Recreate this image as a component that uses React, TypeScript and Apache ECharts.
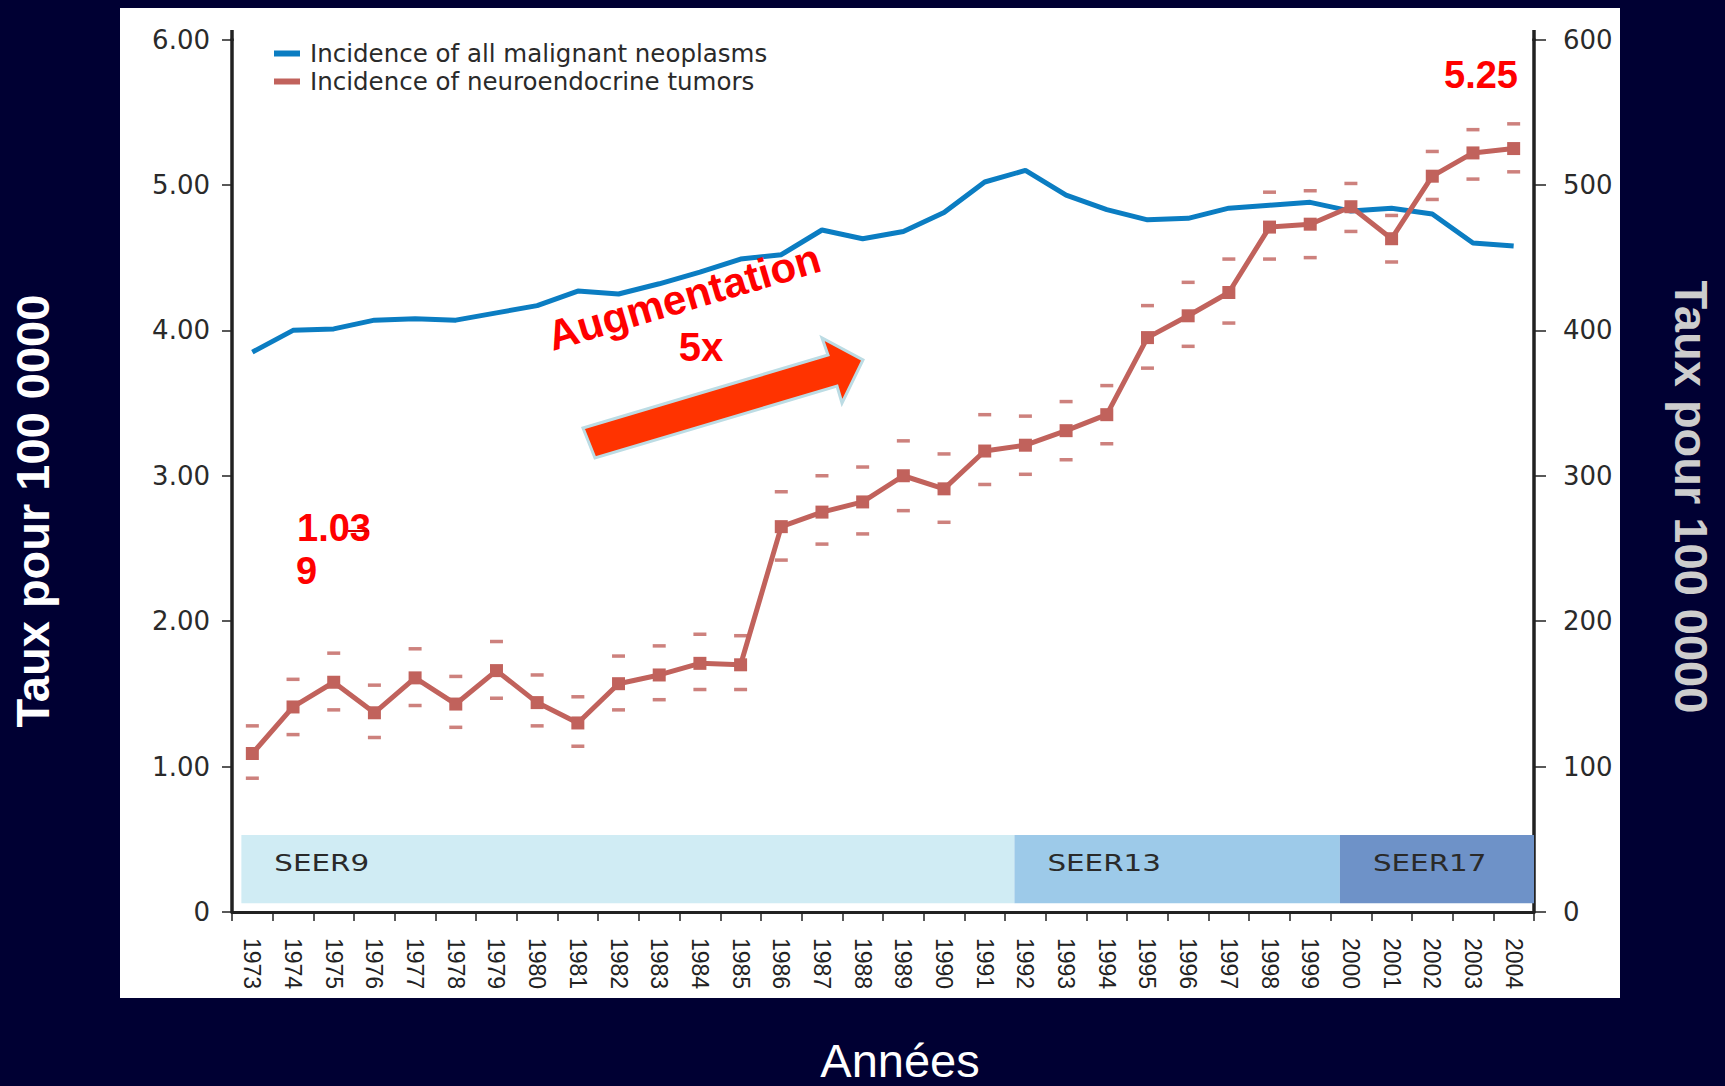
import React, { useEffect, useRef } from 'react';
import * as echarts from 'echarts';

const years = ['1973', '1974', '1975', '1976', '1977', '1978', '1979', '1980', '1981', '1982', '1983', '1984', '1985', '1986', '1987', '1988', '1989', '1990', '1991', '1992', '1993', '1994', '1995', '1996', '1997', '1998', '1999', '2000', '2001', '2002', '2003', '2004'];

// Incidence of all malignant neoplasms (right axis, per 100 000)
const allNeoplasms = [385, 400, 401, 407, 408, 407, 412, 417, 427, 425, 432, 440, 449, 452, 469, 463, 468, 481, 502, 510, 493, 483, 476, 477, 484, 486, 488, 482, 484, 480, 460, 458];

// Incidence of neuroendocrine tumors (left axis)
const netRate = [1.09, 1.41, 1.58, 1.37, 1.61, 1.43, 1.66, 1.44, 1.30, 1.57, 1.63, 1.71, 1.70, 2.65, 2.75, 2.82, 3.00, 2.91, 3.17, 3.21, 3.31, 3.42, 3.95, 4.10, 4.26, 4.71, 4.73, 4.85, 4.63, 5.06, 5.22, 5.25];
const netUpper = [1.28, 1.60, 1.78, 1.56, 1.81, 1.62, 1.86, 1.63, 1.48, 1.76, 1.83, 1.91, 1.90, 2.89, 3.00, 3.06, 3.24, 3.15, 3.42, 3.41, 3.51, 3.62, 4.17, 4.33, 4.49, 4.95, 4.96, 5.01, 4.79, 5.23, 5.38, 5.42];
const netLower = [0.92, 1.22, 1.39, 1.20, 1.42, 1.27, 1.47, 1.28, 1.14, 1.39, 1.46, 1.53, 1.53, 2.42, 2.53, 2.60, 2.76, 2.68, 2.94, 3.01, 3.11, 3.22, 3.74, 3.89, 4.05, 4.49, 4.50, 4.68, 4.47, 4.90, 5.04, 5.09];

const seerNames = ['SEER9', 'SEER13', 'SEER17'];
const seerStartYear = ['1973', '1992', '2000'];
const seerEndYear = ['1991', '1999', '2004'];
const seerColors = ['#d0ecf4', '#9dcae9', '#6e92c8'];

const seriesNames = ['Incidence of all malignant neoplasms', 'Incidence of neuroendocrine tumors'];

const RED = '#c1625c';
const BLUE = '#0b7dc2';
const AXIS = '#222222';

export default function App() {
  const ref = useRef<HTMLDivElement>(null);

  useEffect(() => {
    document.body.style.margin = '0';
    document.body.style.overflow = 'hidden';
    const chart = echarts.init(ref.current as HTMLDivElement, null, { renderer: 'svg' });

    const seerData = seerNames.map((_, i) => [years.indexOf(seerStartYear[i]), years.indexOf(seerEndYear[i])]);

    const option: any = {
      animation: false,
      backgroundColor: '#000033',
      grid: { left: 232, right: 191, top: 39.5, bottom: 174, containLabel: false },
      legend: {
        data: seriesNames,
        orient: 'vertical',
        left: 269,
        top: 36,
        itemWidth: 26,
        itemHeight: 6,
        itemGap: 3,
        icon: 'rect',
        textStyle: { fontSize: 24.5, fontFamily: 'DejaVu Sans', color: '#2a2a2a', padding: [0, 0, 0, 5] },
      },
      xAxis: {
        type: 'category',
        data: years,
        boundaryGap: true,
        axisLine: { show: true, lineStyle: { color: AXIS, width: 3 } },
        axisTick: { show: true, alignWithLabel: false, interval: 0, length: 9, lineStyle: { color: AXIS, width: 1.5 } },
        axisLabel: { interval: 0, rotate: -90, margin: 26, fontSize: 23, fontFamily: 'Liberation Sans', color: '#222' },
        splitLine: { show: false },
      },
      yAxis: [
        {
          type: 'value',
          min: 0,
          max: 6,
          interval: 1,
          position: 'left',
          axisLine: { show: true, lineStyle: { color: AXIS, width: 3.5 } },
          axisTick: { show: true, length: 10, lineStyle: { color: AXIS, width: 1.5 } },
          axisLabel: {
            margin: 22,
            fontSize: 26,
            fontFamily: 'DejaVu Sans',
            color: '#2a2a2a',
            formatter: (v: number) => (v === 0 ? '0' : v.toFixed(2)),
          },
          splitLine: { show: false },
        },
        {
          type: 'value',
          min: 0,
          max: 600,
          interval: 100,
          position: 'right',
          axisLine: { show: true, lineStyle: { color: AXIS, width: 3.5 } },
          axisTick: { show: true, length: 12, lineStyle: { color: AXIS, width: 1.5 } },
          axisLabel: { margin: 29, fontSize: 26, fontFamily: 'DejaVu Sans', color: '#2a2a2a' },
          splitLine: { show: false },
        },
      ],
      graphic: [
        { type: 'rect', z: -10, shape: { x: 120, y: 8, width: 1500, height: 990 }, style: { fill: '#ffffff' } },
        { type: 'line', z: 5, shape: { x1: 232, y1: 30, x2: 232, y2: 41 }, style: { stroke: AXIS, lineWidth: 3.5 } },
        { type: 'line', z: 5, shape: { x1: 1534, y1: 30, x2: 1534, y2: 41 }, style: { stroke: AXIS, lineWidth: 3.5 } },
        {
          type: 'text', x: 32, y: 511, rotation: Math.PI / 2, z: 10,
          style: { text: 'Taux pour 100 0000', fill: '#ffffff', fontSize: 47, fontWeight: 'bold', fontFamily: 'Liberation Sans', textAlign: 'center', textVerticalAlign: 'middle' },
        },
        {
          type: 'text', x: 1691, y: 497, rotation: -Math.PI / 2, z: 10,
          style: { text: 'Taux pour 100 0000', fill: '#cdcdcd', fontSize: 47, fontWeight: 'bold', fontFamily: 'Liberation Sans', textAlign: 'center', textVerticalAlign: 'middle' },
        },
        {
          type: 'text', x: 900, y: 1060, z: 10,
          style: { text: 'Années', fill: '#ffffff', fontSize: 47, fontFamily: 'Liberation Sans', textAlign: 'center', textVerticalAlign: 'middle' },
        },
        {
          type: 'text', x: 1481, y: 75, z: 10,
          style: { text: '5.25', fill: '#ff0000', fontSize: 38, fontWeight: 'bold', fontFamily: 'Liberation Sans', textAlign: 'center', textVerticalAlign: 'middle' },
        },
        {
          type: 'text', x: 297, y: 528, z: 10,
          style: { text: '1.03', fill: '#ff0000', fontSize: 38, fontWeight: 'bold', fontFamily: 'Liberation Sans', textAlign: 'left', textVerticalAlign: 'middle' },
        },
        {
          type: 'text', x: 296, y: 571, z: 10,
          style: { text: '9', fill: '#ff0000', fontSize: 38, fontWeight: 'bold', fontFamily: 'Liberation Sans', textAlign: 'left', textVerticalAlign: 'middle' },
        },
        { type: 'line', z: 11, shape: { x1: 348, y1: 531, x2: 369, y2: 531 }, style: { stroke: '#d40000', lineWidth: 2 } },
        {
          type: 'text', x: 684, y: 297, rotation: (16.5 * Math.PI) / 180, z: 10,
          style: { text: 'Augmentation', fill: '#ff0000', fontSize: 42, fontWeight: 'bold', fontFamily: 'Liberation Sans', textAlign: 'center', textVerticalAlign: 'middle' },
        },
        {
          type: 'text', x: 701, y: 347, z: 10,
          style: { text: '5x', fill: '#ff0000', fontSize: 40, fontWeight: 'bold', fontFamily: 'Liberation Sans', textAlign: 'center', textVerticalAlign: 'middle' },
        },
        {
          type: 'polygon', z: 10,
          shape: { points: [[583, 428], [828, 355], [822, 338], [863, 360], [842, 403], [837, 386], [595, 458]] },
          style: { fill: '#ff3300', stroke: '#bcdce4', lineWidth: 3 },
        },
      ],
      series: [
        {
          name: 'SEER',
          type: 'custom',
          xAxisIndex: 0,
          yAxisIndex: 0,
          z: 1,
          silent: true,
          data: seerData,
          renderItem: (params: any, api: any) => {
            const s = api.value(0);
            const e = api.value(1);
            const bw = api.size([1, 0])[0];
            const top = api.coord([s, 0.53])[1];
            const bottom = api.coord([s, 0.06])[1];
            const cs = params.coordSys;
            const x0 = api.coord([s, 0])[0] - 0.27 * bw;
            const x1 = Math.min(api.coord([e, 0])[0] + 0.73 * bw, cs.x + cs.width);
            return {
              type: 'group',
              children: [
                { type: 'rect', shape: { x: x0, y: top, width: x1 - x0, height: bottom - top }, style: { fill: seerColors[params.dataIndex] } },
                {
                  type: 'text', x: x0 + 33, y: (top + bottom) / 2 - 6, scaleX: 1.25,
                  style: { text: seerNames[params.dataIndex], fill: '#2a2a2a', fontSize: 23.5, fontFamily: 'DejaVu Sans', textVerticalAlign: 'middle' },
                },
              ],
            };
          },
        },
        {
          name: seriesNames[0],
          type: 'line',
          yAxisIndex: 1,
          data: allNeoplasms,
          showSymbol: false,
          symbol: 'none',
          z: 3,
          color: BLUE,
          lineStyle: { color: BLUE, width: 5 },
        },
        {
          name: 'upper',
          type: 'scatter',
          yAxisIndex: 0,
          data: netUpper,
          symbol: 'rect',
          symbolSize: [13, 3.5],
          z: 3,
          itemStyle: { color: RED },
        },
        {
          name: 'lower',
          type: 'scatter',
          yAxisIndex: 0,
          data: netLower,
          symbol: 'rect',
          symbolSize: [13, 3.5],
          z: 3,
          itemStyle: { color: RED },
        },
        {
          name: seriesNames[1],
          type: 'line',
          yAxisIndex: 0,
          data: netRate,
          symbol: 'rect',
          symbolSize: 13,
          showSymbol: true,
          z: 4,
          color: RED,
          itemStyle: { color: RED },
          lineStyle: { color: RED, width: 5 },
        },
      ],
    };

    chart.setOption(option);
    return () => chart.dispose();
  }, []);

  return <div ref={ref} style={{ position: 'absolute', left: 0, top: 0, width: 1725, height: 1086 }} />;
}
